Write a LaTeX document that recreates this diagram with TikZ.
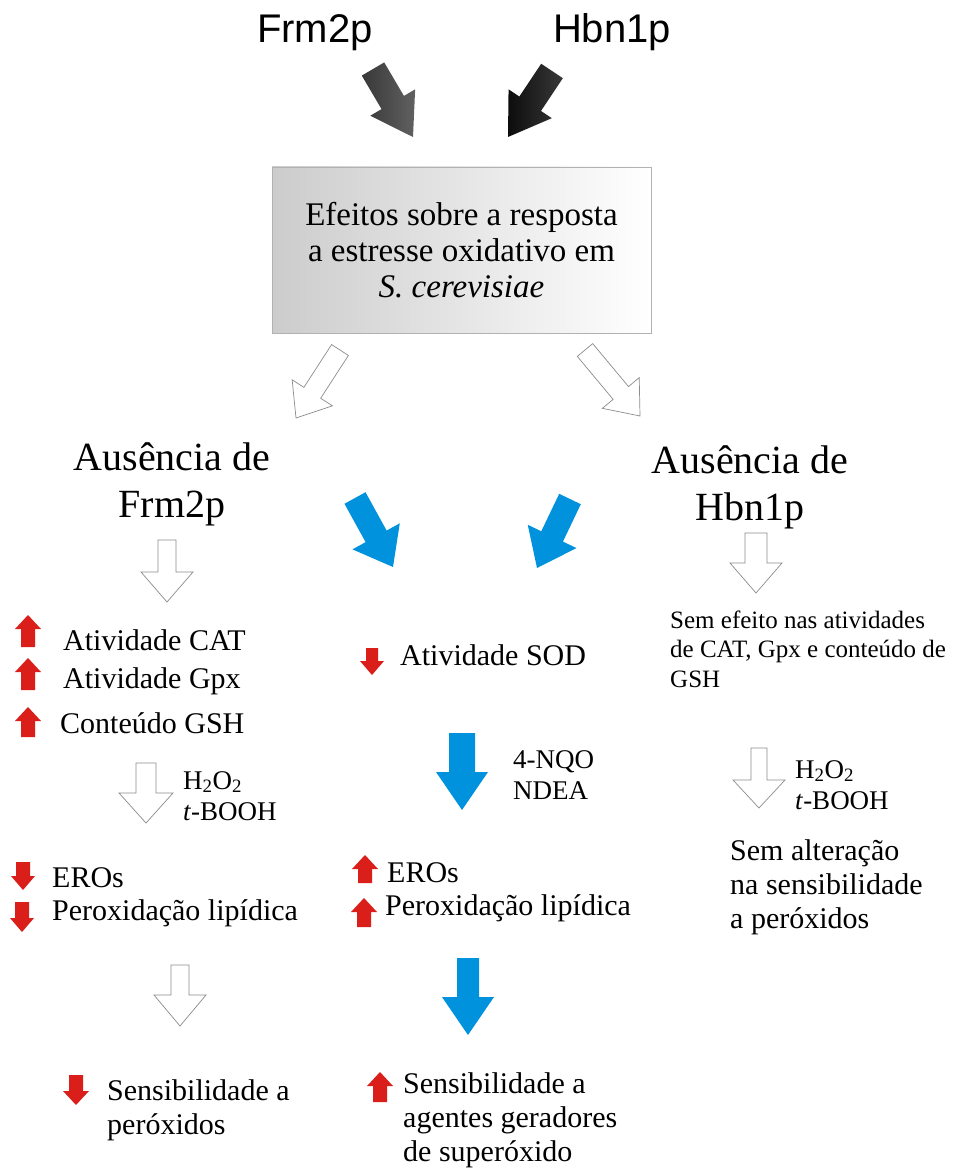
\documentclass[tikz,border=0pt]{standalone}
\usepackage{fontspec}
\setmainfont{Liberation Serif}
\newfontfamily\headfont{Liberation Sans}
\usetikzlibrary{calc}

\definecolor{arrowblue}{RGB}{0,146,221}
\definecolor{arrowred}{RGB}{218,30,26}

% block arrow: style, tail, tip, half shaft, half head, head length
\newcommand{\blockarrow}[6]{%
  \coordinate (hb) at ($#3!#6!#2$);
  \path[#1] ($#2!#4!90:#3$) -- ($(hb)!#4!90:#3$) -- ($(hb)!#5!90:#3$) -- #3
    -- ($(hb)!#5!-90:#3$) -- ($(hb)!#4!-90:#3$) -- ($#2!#4!-90:#3$) -- cycle;
}

\begin{document}
\begin{tikzpicture}[x=1pt, y=-1pt,
    hollow/.style={fill=white, draw=black!45, line width=0.7pt},
    bluearrow/.style={fill=arrowblue},
    redarrow/.style={fill=arrowred},
    headtxt/.style={inner sep=0pt, anchor=base, font=\headfont\fontsize{40pt}{44pt}\selectfont},
    abstxt/.style={inner sep=0pt, anchor=base, align=center, font=\fontsize{40pt}{47pt}\selectfont},
    itemtxt/.style={inner sep=0pt, anchor=base west, align=left, font=\fontsize{30pt}{34pt}\selectfont},
    agenttxt/.style={inner sep=0pt, anchor=base west, align=left, font=\fontsize{27pt}{31pt}\selectfont},
    notetxt/.style={inner sep=0pt, anchor=base west, align=left, font=\fontsize{25pt}{29.5pt}\selectfont}]
  \useasboundingbox[fill=white] (0,0) rectangle (956,1169);

  % proteins on top (base anchor of multi-line nodes = last line)
  \node[headtxt] (frmtop) at (315,43) {Frm2p};
  \node[headtxt] (hbntop) at (612,43) {Hbn1p};
  \blockarrow{left color=black!78, right color=black!62}{(373,69)}{(413,137)}{13pt}{26pt}{40pt}
  \blockarrow{left color=black!95, right color=black!78}{(552,71)}{(508,137)}{13pt}{26pt}{40pt}

  % central box
  \node[draw=black!30, left color=black!20, right color=white, minimum width=379pt,
        minimum height=166pt, align=center, font=\fontsize{33pt}{36pt}\selectfont]
        (box) at (461.5,250) {Efeitos sobre a resposta\\a estresse oxidativo em\\\textit{S. cerevisiae}};

  \blockarrow{hollow}{(340,350)}{(296,418)}{10pt}{24pt}{30pt}
  \blockarrow{hollow}{(585,350)}{(640,416)}{10pt}{24pt}{30pt}

  % the two mutants
  \node[abstxt] (absfrm) at (172,517) {Ausência de\\Frm2p};
  \node[abstxt] (abshbn) at (750,520) {Ausência de\\Hbn1p};
  \blockarrow{bluearrow}{(355,498)}{(393,567)}{12pt}{27pt}{35pt}
  \blockarrow{bluearrow}{(570,499)}{(537,568)}{12pt}{27pt}{35pt}

  % left column
  \blockarrow{hollow}{(167,540)}{(167,602)}{9pt}{26pt}{30pt}
  \blockarrow{redarrow}{(28,647)}{(28,615)}{7pt}{13pt}{14pt}
  \node[itemtxt] (cat) at (63,650) {Atividade CAT};
  \blockarrow{redarrow}{(28,690)}{(28,658)}{7pt}{13pt}{14pt}
  \node[itemtxt] (gpx) at (63,688) {Atividade Gpx};
  \blockarrow{redarrow}{(28,737)}{(28,707)}{7pt}{13pt}{14pt}
  \node[itemtxt] (gsh) at (60,733) {Conteúdo GSH};
  \blockarrow{hollow}{(146,763)}{(146,823)}{10pt}{27pt}{30pt}
  \node[agenttxt] (perleft) at (183,820) {H\textsubscript{2}O\textsubscript{2}\\\textit{t}-BOOH};
  \blockarrow{redarrow}{(23,862)}{(23,890)}{7pt}{12pt}{14pt}
  \node[itemtxt] (erosleft) at (52,887) {EROs};
  \blockarrow{redarrow}{(22,902)}{(22,932)}{7pt}{12pt}{14pt}
  \node[itemtxt] (lipleft) at (52,920) {Peroxidação lipídica};
  \blockarrow{hollow}{(180,965)}{(180,1026)}{9pt}{26pt}{31pt}
  \blockarrow{redarrow}{(76,1075)}{(76,1105)}{7pt}{13pt}{14pt}
  \node[itemtxt] (sensleft) at (107,1134) {Sensibilidade a\\peróxidos};

  % middle column
  \blockarrow{redarrow}{(372,648)}{(372,675)}{6pt}{12pt}{14pt}
  \node[itemtxt] (sod) at (400,665) {Atividade SOD};
  \blockarrow{bluearrow}{(462,733)}{(462,810)}{13pt}{26pt}{38pt}
  \node[agenttxt] (supagents) at (513,799) {4-NQO\\NDEA};
  \blockarrow{redarrow}{(365,883)}{(365,855)}{7pt}{13pt}{14pt}
  \node[itemtxt] (erosmid) at (387,882) {EROs};
  \blockarrow{redarrow}{(364,927)}{(364,898)}{7pt}{13pt}{14pt}
  \node[itemtxt] (lipmid) at (385,915) {Peroxidação lipídica};
  \blockarrow{bluearrow}{(468,958)}{(468,1035)}{11pt}{26pt}{38pt}
  \blockarrow{redarrow}{(380,1102)}{(380,1072)}{7pt}{13pt}{14pt}
  \node[itemtxt] (sensmid) at (403,1161) {Sensibilidade a\\agentes geradores\\de superóxido};

  % right column
  \blockarrow{hollow}{(756,533)}{(756,593)}{11pt}{26pt}{30pt}
  \node[notetxt] (noeffect) at (670,687) {Sem efeito nas atividades\\de CAT, Gpx e conteúdo de\\GSH};
  \blockarrow{hollow}{(759,748)}{(759,808)}{8pt}{26pt}{28pt}
  \node[agenttxt] (perright) at (795,809) {H\textsubscript{2}O\textsubscript{2}\\\textit{t}-BOOH};
  \node[itemtxt] (nochange) at (730,928) {Sem alteração\\na sensibilidade\\a peróxidos};
\end{tikzpicture}
\end{document}
